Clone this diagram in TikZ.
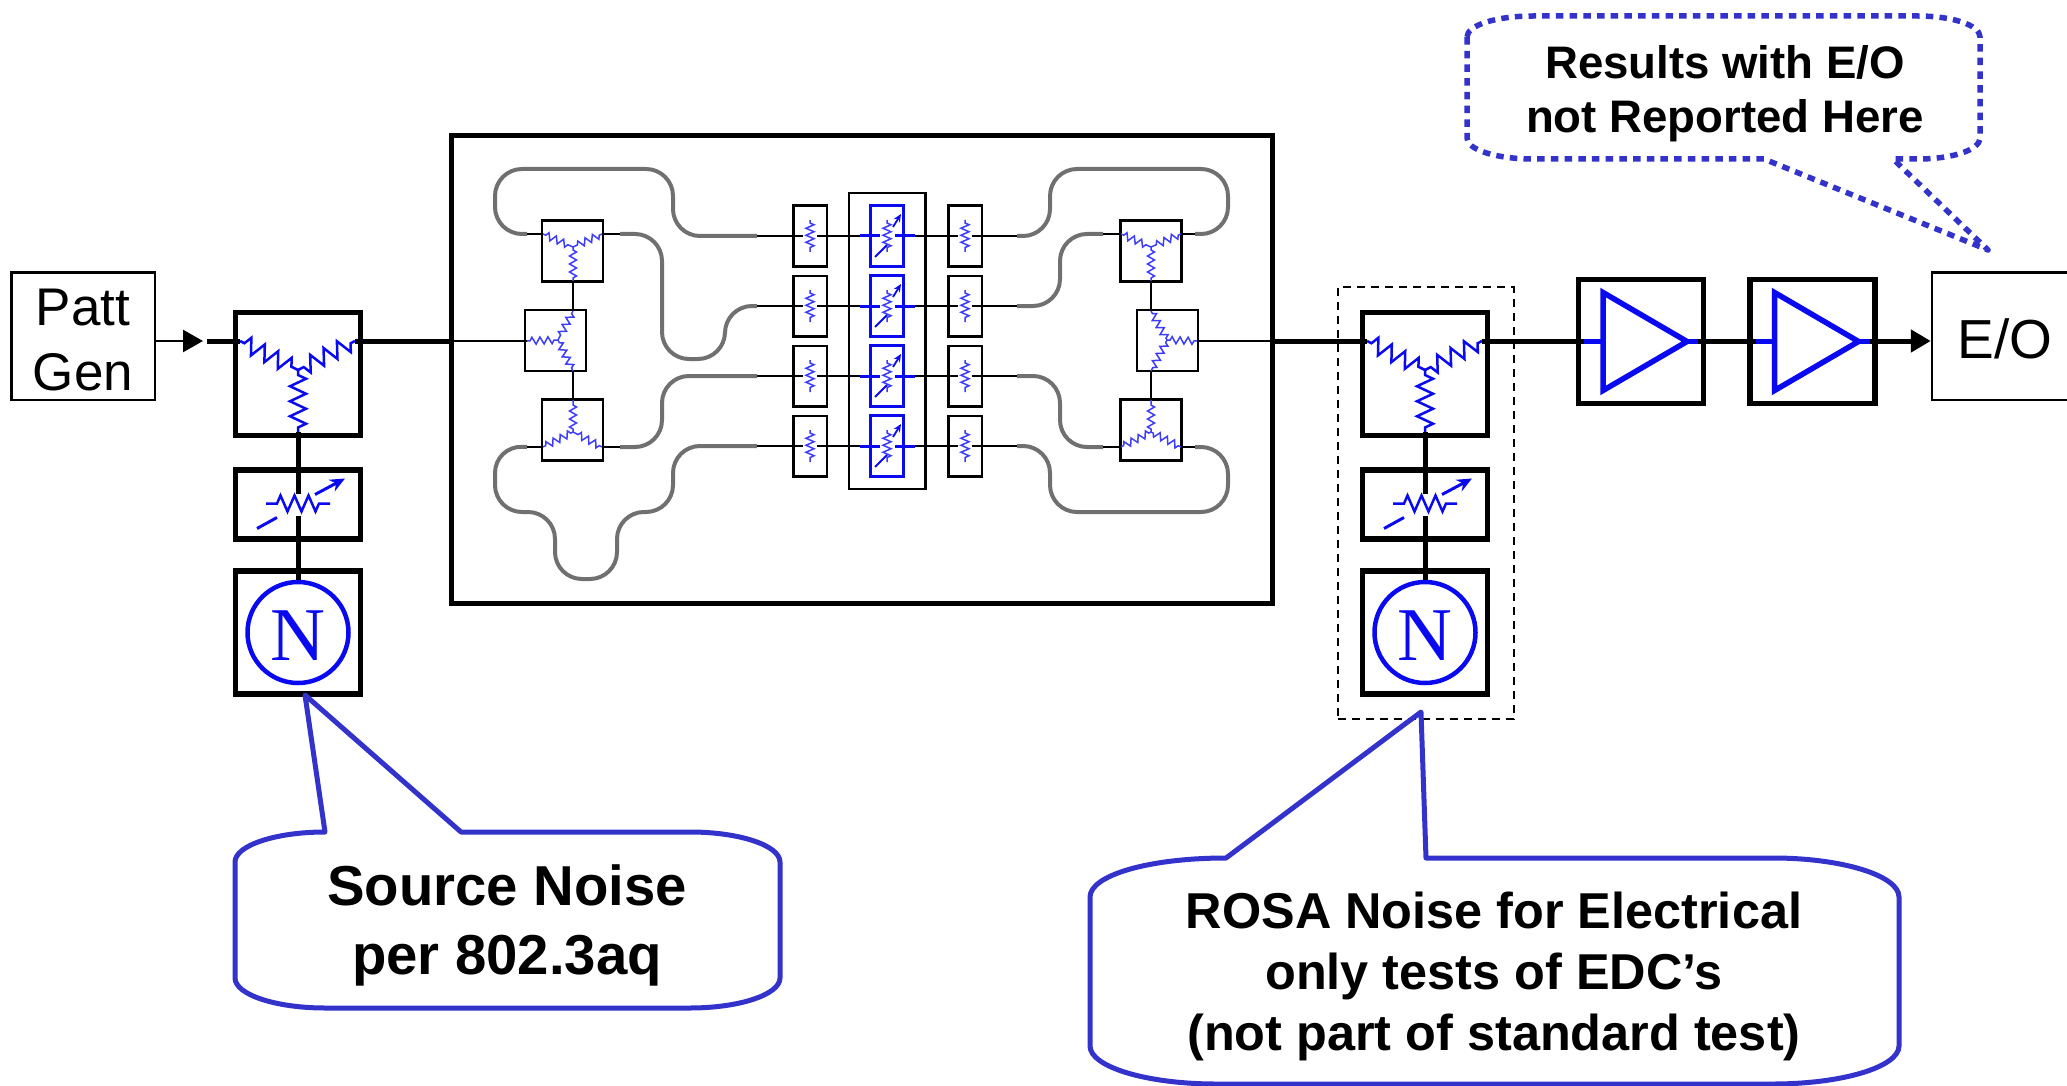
\documentclass[tikz,border=0pt]{standalone}
\usepackage{fontspec}
\setmainfont{Liberation Sans}
\newfontfamily\noisefont{Liberation Serif}
\usepackage{xcolor}
\usepackage{tikz}
\usetikzlibrary{arrows.meta, positioning, fit, calc, decorations.pathmorphing}
\definecolor{resblue}{RGB}{10, 10, 240}
\definecolor{softblue}{RGB}{60, 60, 250}
\definecolor{noteblue}{RGB}{51, 51, 204}
\definecolor{guidegray}{RGB}{112, 112, 112}
% three resistors meeting in a junction
\newcommand{\wye}[5]{%
  \draw[#1] (#3) -- (#2);
  \draw[#1] (#4) -- (#2);
  \draw[#1] (#2) -- (#5);}
% variable resistor drawn around the centre of a box
\newcommand{\varres}[1]{%
  \begin{scope}[shift={(#1)}]
    \draw[hres] (-32,-1) -- (32,-1);
    \draw[tune] (-41,24) -- (-21,13);
    \draw[tune, -{Stealth[length=15pt, width=13pt]}] (17,-10) -- (47,-26);
  \end{scope}}
% amplifier symbol drawn around the centre of a box
\newcommand{\ampsym}[1]{%
  \begin{scope}[shift={(#1)}]
    \draw[ampline] (-38,-49) -- (46,0) -- (-38,49) -- cycle;
    \draw[ampline] (-57,0) -- (-38,0);
    \draw[ampline] (46,0) -- (57,0);
  \end{scope}}
% one lane through the centre of the chip
\newcommand{\lane}[2]{%
  \node[lanebox] (resa#1) at (810,#2) {};
  \node[bluebox] (varr#1) at (887,#2) {};
  \node[lanebox] (resb#1) at (965,#2) {};
  \coordinate (lanew#1) at (757,#2);
  \coordinate (lanee#1) at (1017,#2);
  \draw[thinwire] (lanew#1) -- (803,#2);
  \draw[thinwire] (817,#2) -- (860,#2);
  \draw[thinwire] (915,#2) -- (958,#2);
  \draw[thinwire] (972,#2) -- (lanee#1);
  \draw[bluewire] (860,#2) -- (880,#2);
  \draw[bluewire] (895,#2) -- (915,#2);
  \draw[vres] (810,#2-16) -- (810,#2+16);
  \draw[vres] (965,#2-16) -- (965,#2+16);
  \draw[vres] (887,#2-16) -- (887,#2+16);
  \draw[tunesm] (875,#2+21) -- (887,#2+9);
  \draw[tunesm, -{Stealth[length=8pt, width=7pt]}] (893,#2-9) -- (901,#2-22);}

\begin{document}
\begin{tikzpicture}[
  x=1pt, y=-1pt,
  heavybox/.style={draw, line width=5.5pt, inner sep=0pt, minimum width=125pt},
  srcbox/.style={heavybox, minimum height=123pt},
  attbox/.style={heavybox, minimum height=69pt},
  lightbox/.style={draw, line width=2.5pt, inner sep=0pt,
                   minimum width=61pt, minimum height=61pt},
  lanebox/.style={draw, line width=2.5pt, inner sep=0pt,
                  minimum width=33.5pt, minimum height=60.5pt},
  bluebox/.style={lanebox, draw=resblue, line width=3pt},
  labelbox/.style={draw, line width=2.5pt, inner sep=0pt, align=center,
                   font=\fontsize{53}{65}\selectfont},
  noisering/.style={draw=resblue, circle, line width=4.5pt, inner sep=0pt,
                    minimum size=101pt, text=resblue, text height=55pt,
                    font=\fontsize{76}{76}\noisefont},
  notetext/.style={align=center, inner sep=0pt},
  note/.style={draw=noteblue, line width=5pt, line join=round},
  wire/.style={line width=5pt},
  thinwire/.style={line width=2.5pt},
  bluewire/.style={line width=3pt, color=resblue},
  guide/.style={line width=4pt, color=guidegray, rounded corners=27pt},
  ampline/.style={line width=5.5pt, color=resblue},
  tune/.style={line width=3pt, color=resblue},
  tunesm/.style={line width=1.8pt, color=resblue},
  bigres/.style={decorate, decoration={zigzag, segment length=15pt, amplitude=8pt,
                 pre length=5pt, post length=3pt}, line width=2.5pt, color=resblue},
  hres/.style={decorate, decoration={zigzag, segment length=14pt, amplitude=8pt,
               pre length=11pt, post length=11pt}, line width=2.5pt, color=resblue},
  smallres/.style={decorate, decoration={zigzag, segment length=8pt, amplitude=3.5pt,
                   pre length=3pt, post length=2pt}, line width=1.5pt, color=softblue},
  vres/.style={decorate, decoration={zigzag, segment length=7pt, amplitude=4pt,
               pre length=3pt, post length=3pt}, line width=1.5pt, color=softblue},
  inarrow/.style={line width=2.5pt, -{Stealth[length=20pt, width=22pt, inset=0pt]}},
  outarrow/.style={line width=5pt, -{Stealth[length=20pt, width=22pt, inset=0pt]}}
]
\useasboundingbox (0,0) rectangle (2067,1086);

% ── Outer nodes ──────────────────────────────────────────────────────────────
\coordinate (rail) at (0,341);

\node[labelbox, minimum width=143.5pt, minimum height=127.5pt, text height=109pt]
  (patt) at (83,336) {Patt\\Gen};

\node[srcbox] (srcy) at (298,374) {};
\node[attbox, below=29pt of srcy] (srcatt) {};
\node[srcbox, below=26.5pt of srcatt] (srcnoise) {};
\node[noisering] (srcn) at (srcnoise) {N};

\node[srcbox] (rosay) at (1425,374) {};
\node[attbox, below=29pt of rosay] (rosaatt) {};
\node[srcbox, below=26.5pt of rosaatt] (rosanoise) {};
\node[noisering] (rosan) at (rosanoise) {N};
\node[draw, dashed, dash pattern=on 8pt off 6pt, line width=2pt, inner sep=22.5pt,
      xshift=1pt, fit=(rosay)(rosanoise)] (rosagroup) {};

\node[srcbox, minimum height=124pt] (amp1) at (1641,341.5) {};
\node[srcbox, minimum height=124pt, right=41pt of amp1] (amp2) {};

\node[labelbox, minimum width=146pt, minimum height=127.5pt, text height=46pt,
      font=\fontsize{55}{65}\selectfont] (eo) at (2005,336) {E/O};

\node[draw, line width=5pt, inner sep=0pt, minimum width=821pt, minimum height=467pt]
  (chip) at (861.5,369.5) {};

% ── Symbols in the outer boxes ───────────────────────────────────────────────
\coordinate (srcw) at (240,341);
\coordinate (srce) at (355,341);
\coordinate (srcb) at (298,432);
\wye{bigres}{298,370}{srcw}{srce}{srcb}
\varres{srcatt}

\coordinate (rosaw) at (1367,341);
\coordinate (rosae) at (1482,341);
\coordinate (rosab) at (1425,432);
\wye{bigres}{1425,370}{rosaw}{rosae}{rosab}
\varres{rosaatt}

\ampsym{amp1}
\ampsym{amp2}

% ── Outer wires ──────────────────────────────────────────────────────────────
\coordinate (srcin) at (203,341);
\coordinate (srcfree) at (207,341);
\draw[inarrow] (patt.east |- rail) -- (srcin);
\draw[wire] (srcfree) -- (srcw);
\draw[wire] (srce) -- (chip.west |- rail);

\draw[wire] (srcb) -- ($(srcatt.center)+(0,-11)$);
\draw[wire] ($(srcatt.center)+(0,11)$) -- (srcn.north);
\draw[wire] (rosab) -- ($(rosaatt.center)+(0,-11)$);
\draw[wire] ($(rosaatt.center)+(0,11)$) -- (rosan.north);

\draw[wire] (chip.east |- rail) -- (rosaw);
\draw[wire] (rosae) -- ($(amp1.center)+(-57,-0.5)$);
\draw[wire] ($(amp1.center)+(57,-0.5)$) -- ($(amp2.center)+(-57,-0.5)$);
\draw[outarrow] ($(amp2.center)+(57,-0.5)$) -- (eo.west |- rail);

% ── Chip: left splitters ─────────────────────────────────────────────────────
\node[lightbox] (ltop) at (572.5,251) {};
\node[lightbox] (lmid) at (555.5,340.5) {};
\node[lightbox] (lbot) at (572.5,430) {};

\coordinate (ltopw) at (527,234);
\coordinate (ltope) at (620,234);
\coordinate (lbotw) at (527,447);
\coordinate (lbote) at (620,447);

\wye{smallres}{573,247}{543,234}{602,234}{573,281}
\wye{smallres}{558,340}{527,341}{573,311}{573,371}
\wye{smallres}{573,432}{543,447}{602,447}{573,400}

\draw[thinwire] (chip.west |- rail) -- (lmid.west |- rail) -- ++(3,0);
\draw[thinwire] (573,281) -- (573,310);
\draw[thinwire] (573,372) -- (573,400);

% ── Chip: right splitters ────────────────────────────────────────────────────
\node[lightbox] (rtop) at (1151,251) {};
\node[lightbox] (rmid) at (1167.5,340.5) {};
\node[lightbox] (rbot) at (1151,430) {};

\coordinate (rtopw) at (1103,234);
\coordinate (rtope) at (1195,234);
\coordinate (rbotw) at (1103,447);
\coordinate (rbote) at (1195,447);

\wye{smallres}{1151,247}{1121,234}{1181,234}{1151,281}
\wye{smallres}{1167,340}{1197,341}{1151,311}{1151,371}
\wye{smallres}{1151,432}{1121,447}{1181,447}{1151,400}

\draw[thinwire] (1197,341) -- (chip.east |- rail);
\draw[thinwire] (1151,281) -- (1151,310);
\draw[thinwire] (1151,372) -- (1151,400);

% ── Chip: centre lanes ───────────────────────────────────────────────────────
\lane{1}{236}
\lane{2}{306}
\lane{3}{376}
\lane{4}{446}
\node[draw, line width=2.5pt, inner xsep=20pt, inner ysep=11pt,
      fit=(varr1)(varr4)] (varrgroup) {};

% ── Chip: routed guides ──────────────────────────────────────────────────────
\draw[guide] (ltopw) -- (495,234) -- (495,169) -- (673,169) -- (673,236) -- (lanew1);
\draw[guide] (ltope) -- (662,234) -- (662,359) -- (725,359) -- (725,306) -- (lanew2);
\draw[guide] (lbote) -- (662,447) -- (662,376) -- (lanew3);
\draw[guide] (lbotw) -- (495,446) -- (495,512) -- (555,512) -- (555,579)
  -- (617,579) -- (617,512) -- (673,512) -- (673,446) -- (lanew4);

\draw[guide] (lanee1) -- (1050,236) -- (1050,169) -- (1228,169) -- (1228,234) -- (rtope);
\draw[guide] (lanee2) -- (1060,306) -- (1060,234) -- (rtopw);
\draw[guide] (lanee3) -- (1060,376) -- (1060,447) -- (rbotw);
\draw[guide] (lanee4) -- (1050,446) -- (1050,512) -- (1228,512) -- (1228,447) -- (rbote);

\draw[thinwire] (ltopw) -- (ltop.west |- ltopw);
\draw[thinwire] (ltope) -- (ltop.east |- ltope);
\draw[thinwire] (lbotw) -- (lbot.west |- lbotw);
\draw[thinwire] (lbote) -- (lbot.east |- lbote);
\draw[thinwire] (rtopw) -- (rtop.west |- rtopw);
\draw[thinwire] (rtope) -- (rtop.east |- rtope);
\draw[thinwire] (rbotw) -- (rbot.west |- rbotw);
\draw[thinwire] (rbote) -- (rbot.east |- rbote);

% ── Callouts ─────────────────────────────────────────────────────────────────
\draw[note, line width=5.5pt, dash pattern=on 7.5pt off 6.2pt]
  (1467,37) .. controls (1467,25) and (1497,16) .. (1533,16) -- (1918,16)
  .. controls (1952,16) and (1980,25) .. (1980,37) -- (1980,138)
  .. controls (1980,150) and (1952,159) .. (1918,159) -- (1893,159)
  -- (1988,250) -- (1764,159) -- (1533,159)
  .. controls (1497,159) and (1467,150) .. (1467,138) -- cycle;
\node[notetext, font=\fontsize{45.6}{54}\bfseries\selectfont] (resultsnote) at (1725,93.5)
  {Results with E/O\\not Reported Here};

\draw[note]
  (235,862) .. controls (235,845.5) and (275.5,832) .. (325,832)
  -- (305,695) -- (461,832) -- (690,832)
  .. controls (739.5,832) and (780,845.5) .. (780,862) -- (780,978)
  .. controls (780,994.5) and (739.5,1008) .. (690,1008) -- (325,1008)
  .. controls (275.5,1008) and (235,994.5) .. (235,978) -- cycle;
\node[notetext, font=\fontsize{56.3}{69}\bfseries\selectfont] (sourcenote) at (507,925)
  {Source Noise\\per 802.3aq};

\draw[note]
  (1090,897) .. controls (1090,875.5) and (1148,858) .. (1226,858)
  -- (1421,712) -- (1426,858) -- (1773,858)
  .. controls (1842,858) and (1899,875.5) .. (1899,897) -- (1899,1046)
  .. controls (1899,1067) and (1842,1084) .. (1773,1084) -- (1216,1084)
  .. controls (1147,1084) and (1090,1067) .. (1090,1046) -- cycle;
\node[notetext, font=\fontsize{50.4}{61}\bfseries\selectfont] (rosanote) at (1494,976)
  {ROSA Noise for Electrical\\only tests of EDC’s\\(not part of standard test)};

\end{tikzpicture}
\end{document}
